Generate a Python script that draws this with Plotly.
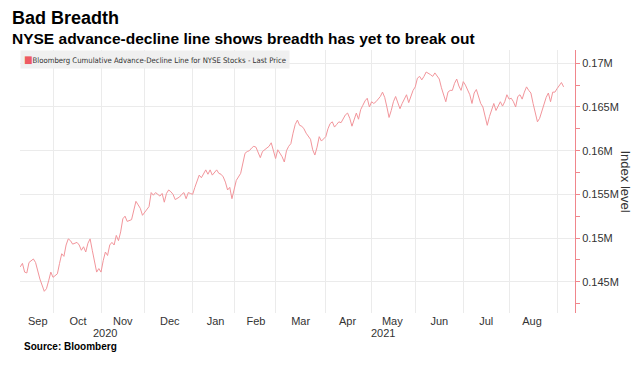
import plotly.graph_objects as go

# ---- data ----
dates = [
    "2020-09-10", "2020-09-11", "2020-09-14", "2020-09-15", "2020-09-16", "2020-09-18",
    "2020-09-21", "2020-09-22", "2020-09-23", "2020-09-25", "2020-09-28", "2020-09-29",
    "2020-09-30", "2020-10-01", "2020-10-05", "2020-10-06", "2020-10-07", "2020-10-08",
    "2020-10-09", "2020-10-12", "2020-10-13", "2020-10-14", "2020-10-16", "2020-10-19",
    "2020-10-20", "2020-10-21", "2020-10-22", "2020-10-23", "2020-10-26", "2020-10-27",
    "2020-10-28", "2020-10-29", "2020-10-30", "2020-11-02", "2020-11-03", "2020-11-04",
    "2020-11-05", "2020-11-06", "2020-11-09", "2020-11-10", "2020-11-11", "2020-11-12",
    "2020-11-13", "2020-11-16", "2020-11-17", "2020-11-18", "2020-11-20", "2020-11-23",
    "2020-11-24", "2020-11-25", "2020-11-27", "2020-11-30", "2020-12-02", "2020-12-03",
    "2020-12-04", "2020-12-07", "2020-12-08", "2020-12-10", "2020-12-11", "2020-12-14",
    "2020-12-15", "2020-12-16", "2020-12-17", "2020-12-18", "2020-12-21", "2020-12-23",
    "2020-12-24", "2020-12-28", "2020-12-29", "2020-12-30", "2020-12-31", "2021-01-04",
    "2021-01-05", "2021-01-06", "2021-01-07", "2021-01-08", "2021-01-11", "2021-01-12",
    "2021-01-13", "2021-01-14", "2021-01-15", "2021-01-19", "2021-01-20", "2021-01-21",
    "2021-01-22", "2021-01-25", "2021-01-26", "2021-01-27", "2021-01-28", "2021-01-29",
    "2021-02-01", "2021-02-02", "2021-02-04", "2021-02-05", "2021-02-08", "2021-02-09",
    "2021-02-10", "2021-02-11", "2021-02-12", "2021-02-16", "2021-02-17", "2021-02-18",
    "2021-02-19", "2021-02-22", "2021-02-24", "2021-02-25", "2021-02-26", "2021-03-01",
    "2021-03-02", "2021-03-03", "2021-03-04", "2021-03-05", "2021-03-08", "2021-03-09",
    "2021-03-10", "2021-03-11", "2021-03-12", "2021-03-15", "2021-03-16", "2021-03-17",
    "2021-03-18", "2021-03-19", "2021-03-23", "2021-03-24", "2021-03-25", "2021-03-26",
    "2021-03-29", "2021-03-30", "2021-03-31", "2021-04-01", "2021-04-05", "2021-04-06",
    "2021-04-07", "2021-04-08", "2021-04-09", "2021-04-12", "2021-04-13", "2021-04-14",
    "2021-04-15", "2021-04-16", "2021-04-19", "2021-04-20", "2021-04-21", "2021-04-22",
    "2021-04-23", "2021-04-26", "2021-04-27", "2021-04-28", "2021-04-29", "2021-04-30",
    "2021-05-03", "2021-05-04", "2021-05-05", "2021-05-07", "2021-05-10", "2021-05-11",
    "2021-05-12", "2021-05-13", "2021-05-14", "2021-05-17", "2021-05-18", "2021-05-19",
    "2021-05-20", "2021-05-21", "2021-05-24", "2021-05-25", "2021-05-26", "2021-05-27",
    "2021-05-28", "2021-06-01", "2021-06-02", "2021-06-03", "2021-06-04", "2021-06-07",
    "2021-06-08", "2021-06-10", "2021-06-11", "2021-06-14", "2021-06-15", "2021-06-16",
    "2021-06-17", "2021-06-18", "2021-06-21", "2021-06-22", "2021-06-23", "2021-06-24",
    "2021-06-25", "2021-06-28", "2021-06-29", "2021-06-30", "2021-07-01", "2021-07-02",
    "2021-07-06", "2021-07-07", "2021-07-08", "2021-07-09", "2021-07-12", "2021-07-13",
    "2021-07-14", "2021-07-15", "2021-07-16", "2021-07-19", "2021-07-20", "2021-07-21",
    "2021-07-22", "2021-07-23", "2021-07-26", "2021-07-27", "2021-07-28", "2021-07-29",
    "2021-07-30", "2021-08-02", "2021-08-03", "2021-08-04", "2021-08-05", "2021-08-06",
    "2021-08-09", "2021-08-10", "2021-08-11", "2021-08-12", "2021-08-13", "2021-08-16",
    "2021-08-17", "2021-08-18", "2021-08-19", "2021-08-20", "2021-08-23", "2021-08-24",
    "2021-08-25", "2021-08-26", "2021-08-27", "2021-08-30", "2021-08-31", "2021-09-01",
    "2021-09-02", "2021-09-03", "2021-09-07",
]

# index level, in thousands
ad_line_k = [
    146.7, 147.1, 146.1, 146.0, 147.2, 147.6,
    147.2, 146.3, 145.3, 143.9, 144.2, 145.1,
    146.1, 145.5, 145.9, 147.1, 148.2, 147.9,
    149.2, 149.9, 149.7, 149.3, 149.5, 149.2,
    148.6, 149.0, 148.4, 149.4, 149.9, 148.6,
    147.2, 146.1, 146.5, 146.1, 147.4, 148.4,
    148.0, 149.2, 149.5, 149.2, 150.3, 149.7,
    150.7, 152.2, 152.5, 151.9, 152.1, 153.2,
    154.2, 153.8, 153.4, 152.6, 153.2, 153.6,
    155.2, 154.9, 155.2, 154.8, 155.1, 154.1,
    155.1, 155.5, 155.3, 155.0, 154.4, 154.7,
    155.0, 155.2, 154.5, 155.2, 155.1, 155.0,
    155.8, 156.6, 157.2, 156.9, 157.4, 157.8,
    157.3, 157.8, 157.2, 157.5, 157.8, 157.4,
    157.3, 157.0, 156.4, 155.5, 155.8, 154.5,
    155.7, 156.6, 157.4, 158.5, 159.7, 159.9,
    160.0, 160.3, 160.5, 160.4, 159.7, 159.2,
    159.9, 160.1, 160.5, 160.9, 159.9, 159.1,
    160.1, 159.7, 159.3, 158.7, 160.0, 160.5,
    160.8, 162.0, 163.0, 163.5, 162.9, 162.8,
    162.5, 162.0, 161.3, 160.1, 159.5, 160.4,
    161.6, 161.1, 161.4, 161.6, 162.5, 163.1,
    163.3, 162.7, 163.0, 163.3, 163.2, 163.7,
    164.1, 164.3, 163.7, 162.8, 163.7, 164.3,
    163.6, 164.7, 165.2, 165.7, 166.0, 165.0,
    165.6, 165.4, 165.6, 166.2, 166.7, 166.1,
    165.0, 163.8, 164.6, 165.6, 166.2, 165.4,
    164.8, 165.4, 166.0, 166.4, 165.5, 166.2,
    166.9, 167.3, 168.3, 168.5, 168.1, 168.5,
    169.0, 168.7, 168.5, 168.9, 168.5, 168.2,
    167.2, 166.4, 165.6, 166.7, 166.9, 166.9,
    167.7, 168.2, 167.4, 166.9, 167.9, 167.5,
    166.9, 166.4, 165.4, 166.6, 167.0, 166.2,
    165.4, 165.0, 164.1, 162.9, 163.9, 164.8,
    165.4, 164.6, 165.2, 165.6, 165.1, 165.6,
    166.4, 165.9, 166.0, 165.6, 165.0, 166.2,
    166.4, 165.9, 166.7, 167.3, 166.9, 166.6,
    165.4, 164.2, 163.3, 163.7, 164.6, 165.4,
    166.1, 166.6, 165.6, 166.7, 166.7, 167.1,
    167.4, 167.8, 167.3,
]
ad_line = [v * 1000 for v in ad_line_k]

# market holidays (no trading days on the axis)
holidays = ["2020-11-26", "2020-12-25", "2021-01-01", "2021-01-18", "2021-02-15",
            "2021-04-02", "2021-05-31", "2021-07-05", "2021-09-06"]

y_tickvals = [145000, 150000, 155000, 160000, 165000, 170000]
y_ticktext = ["0.145M", "0.15M", "0.155M", "0.16M", "0.165M", "0.17M"]

first_month_label = "Sep"
first_month_label_date = "2020-09-22"
year_labels = ["2020", "2021"]
year_label_dates = ["2020-11-04", "2021-05-10"]

series_name = "Bloomberg Cumulative Advance-Decline Line for NYSE Stocks - Last Price"

LINE = "#f2959b"
AXIS_RED = "#f0868c"
GRID = "#ebebeb"
FONT = "Liberation Sans"
NARROW = "Liberation Sans Narrow, DejaVu Sans Condensed, Liberation Sans"
TXT = "#333333"

fig = go.Figure()
fig.add_trace(go.Scatter(
    x=dates, y=ad_line, mode="lines",
    line=dict(color=LINE, width=1),
    name=series_name, showlegend=False, hoverinfo="skip",
))

# page body has an 8px margin: figure is sized/placed to compensate
fig.update_layout(
    width=628, height=349,
    margin=dict(l=12, r=61, t=42, b=44),
    paper_bgcolor="white", plot_bgcolor="white",
    font=dict(family=FONT, size=11, color=TXT),
    showlegend=False,
)

fig.update_xaxes(
    type="date",
    range=["2020-09-09 21:00", "2021-09-14 05:00"],
    rangebreaks=[dict(bounds=["sat", "mon"]), dict(values=holidays)],
    tick0="2020-09-01", dtick="M1", tickformat="%b",
    ticklabelmode="period",
    showgrid=True, gridcolor=GRID, gridwidth=1,
    showline=False, zeroline=False, ticks="",
    tickfont=dict(family=FONT, size=11, color=TXT),
)

fig.update_yaxes(
    side="right",
    range=[141417, 171522],
    tickmode="array", tickvals=y_tickvals, ticktext=y_ticktext,
    showgrid=True, gridcolor=GRID, gridwidth=1,
    showline=True, linecolor=AXIS_RED, linewidth=1,
    ticks="outside", ticklen=4, tickcolor=AXIS_RED,
    minor=dict(ticks="outside", ticklen=4, tickcolor=AXIS_RED, dtick=2500,
               tick0=142500, showgrid=False),
    zeroline=False,
    tickfont=dict(family=FONT, size=11, color=TXT),
)

ann = []
ann.append(dict(text="<b>Bad Breadth</b>", xref="paper", yref="paper",
                x=0, y=1.122, xanchor="left", yanchor="middle", showarrow=False,
                xshift=-10, font=dict(family=FONT, size=18, color="#000000")))
ann.append(dict(text="<b>NYSE advance-decline line shows breadth has yet to break out</b>",
                xref="paper", yref="paper", x=0, y=1.044, xanchor="left",
                yanchor="middle", showarrow=False, xshift=-10,
                font=dict(family=FONT, size=15.5, color="#000000")))
ann.append(dict(text='<span style="color:#ee5a63;font-size:10px">■</span>' + series_name,
                xref="paper", yref="paper", x=0, y=1.0, xanchor="left",
                yanchor="top", showarrow=False, bgcolor="#f0f0f0", borderpad=3,
                font=dict(family=NARROW, size=7.7, color=TXT)))
ann.append(dict(text=first_month_label, xref="x", yref="paper",
                x=first_month_label_date, y=-0.0304, xanchor="center",
                yanchor="middle", showarrow=False,
                font=dict(family=FONT, size=11, color=TXT)))
for lbl, d in zip(year_labels, year_label_dates):
    ann.append(dict(text=lbl, xref="x", yref="paper", x=d, y=-0.076,
                    xanchor="center", yanchor="middle", showarrow=False,
                    font=dict(family=FONT, size=11, color=TXT)))
ann.append(dict(text="<b>Source: Bloomberg</b>", xref="paper", yref="paper",
                x=0, y=-0.1255, xanchor="left", yanchor="middle", showarrow=False,
                xshift=2, font=dict(family=FONT, size=10, color="#000000")))
ann.append(dict(text="Index level", xref="paper", yref="paper",
                x=1, y=0.5, xanchor="center", yanchor="middle", showarrow=False,
                xshift=50, textangle=90,
                font=dict(family=FONT, size=13, color=TXT)))
fig.update_layout(annotations=ann)

fig.write_html("out.html")
